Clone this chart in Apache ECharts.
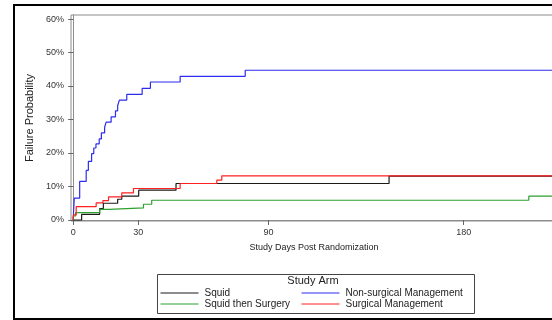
<!DOCTYPE html>
<html>
<head>
<meta charset="utf-8">
<script src="https://cdn.jsdelivr.net/npm/echarts@6/dist/echarts.min.js"></script>
<style>
html,body{margin:0;padding:0;width:552px;height:320px;overflow:hidden;background:#fff;}
#chart{position:absolute;left:0;top:0;width:640px;height:320px;}
#frame{position:absolute;left:13px;top:4px;width:700px;height:312px;border:2px solid #000;pointer-events:none;}
</style>
</head>
<body>
<div id="chart"></div>
<div id="frame"></div>
<script>
// tick labels
let xTicks = [0, 30, 90, 180];
let yTicks = [0, 10, 20, 30, 40, 50, 60];

// step curves, day -> failure probability (%)
let squidDays = [0, 3.9, 12.2, 13.9, 20.5, 22.4, 30.2, 47.4, 145.6, 224];
let squidPct  = [0, 1.7, 3.4, 5.0, 6.2, 7.1, 8.9, 10.9, 13.1, 13.1];

let nonSurgDays = [0, 0.5, 3, 6, 7, 8.5, 9.5, 10.5, 12, 13, 14.5, 15.2, 17.5, 19.5, 20.5, 21.3, 24.7, 31.8, 35.6, 49.3, 79.3, 224];
let nonSurgPct  = [0, 6.5, 11.5, 14.8, 17.5, 19.8, 21.5, 22.7, 24.2, 26.0, 27.7, 29.2, 30.8, 32.6, 34.1, 35.8, 37.5, 39.3, 41.2, 42.9, 44.7, 44.7];

let squidSurgDays = [0, 0.1, 1.1, 12.2, 16.7, 32.4, 36.2, 210, 224];
let squidSurgPct  = [0, 1.2, 2.2, 3.2, 3.6, 4.7, 5.9, 7.1, 7.1];

let surgDays = [0, 0.1, 1.4, 10.6, 13.7, 16.3, 22.4, 27.8, 49.3, 66.2, 68.5, 224];
let surgPct  = [0, 1.5, 4.0, 5.1, 5.8, 6.9, 8.1, 9.4, 10.9, 11.9, 13.2, 13.2];

function pairs(d, p){
  return d.map((x, i) => [x, p[i]]);
}

let font = 'Liberation Sans';
let chart = echarts.init(document.getElementById('chart'));

function mk(name, d, p, color){
  return {
    name: name,
    type: 'line',
    step: 'end',
    symbol: 'none',
    animation: false,
    lineStyle: {color: color, width: 1.2},
    itemStyle: {color: color},
    data: pairs(d, p)
  };
}

let legendBase = {
  orient: 'vertical',
  top: 288,
  itemWidth: 38, itemHeight: 10, itemGap: 1,
  itemStyle: {opacity: 0},
  lineStyle: {width: 1},
  textStyle: {fontSize: 10, color: '#222', fontFamily: font, padding: [0, 0, 0, 1]},
  padding: 0
};

chart.setOption({
  animation: false,
  textStyle: {fontFamily: font},
  grid: {
    left: 71, top: 15, width: 486, height: 206,
    show: true, borderColor: '#8c8c8c', borderWidth: 1
  },
  xAxis: {
    type: 'value',
    min: -1, max: 223,
    name: 'Study Days Post Randomization',
    nameLocation: 'middle',
    nameGap: 22,
    nameTextStyle: {fontSize: 9, color: '#222', fontFamily: font},
    axisLine: {show: true, lineStyle: {color: '#8c8c8c'}},
    axisTick: {show: true, length: 5, customValues: xTicks, lineStyle: {color: '#666'}},
    axisLabel: {customValues: xTicks, fontSize: 9, color: '#333', margin: 7, fontFamily: font},
    splitLine: {show: false}
  },
  yAxis: {
    type: 'value',
    min: -0.3, max: 61.2,
    name: 'Failure Probability',
    nameLocation: 'middle',
    nameGap: 35,
    nameTextStyle: {fontSize: 11, color: '#222', fontFamily: font},
    axisLine: {show: true, lineStyle: {color: '#8c8c8c'}},
    axisTick: {show: true, length: 5, customValues: yTicks, lineStyle: {color: '#666'}},
    axisLabel: {customValues: yTicks, fontSize: 9, color: '#333', margin: 7, fontFamily: font,
      formatter: v => v + '%'},
    splitLine: {show: false}
  },
  legend: [
    Object.assign({}, legendBase, {data: ['Squid', 'Squid then Surgery'], left: 160}),
    Object.assign({}, legendBase, {data: ['Non-surgical Management', 'Surgical Management'], left: 301})
  ],
  graphic: [
    {
      type: 'rect', left: 155, top: 272, silent: true,
      shape: {width: 317, height: 39},
      style: {fill: 'none', stroke: '#444', lineWidth: 1}
    },
    {
      type: 'text', x: 313, y: 275, silent: true,
      style: {text: 'Study Arm', fontSize: 11, fontFamily: font, fill: '#222', textAlign: 'center'}
    }
  ],
  series: [
    mk('Squid', squidDays, squidPct, '#1a1a1a'),
    mk('Non-surgical Management', nonSurgDays, nonSurgPct, '#2d2df0'),
    mk('Squid then Surgery', squidSurgDays, squidSurgPct, '#2ea02e'),
    mk('Surgical Management', surgDays, surgPct, '#ff2020')
  ]
});
</script>
</body>
</html>
